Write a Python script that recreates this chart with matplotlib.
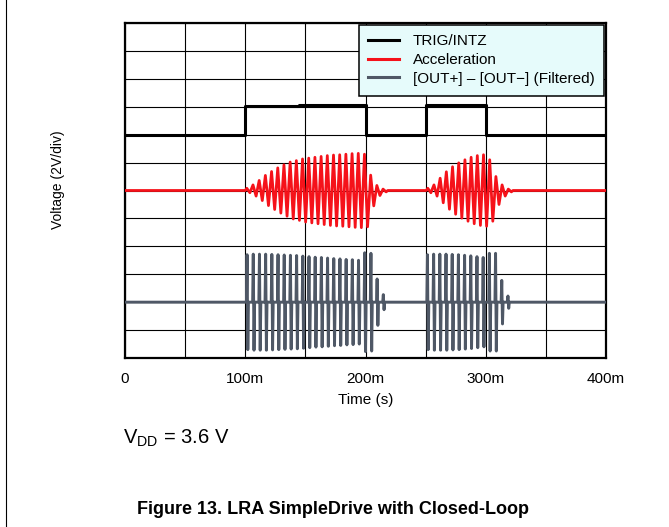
import numpy as np
import matplotlib
matplotlib.use("Agg")
from matplotlib import pyplot as plt
from matplotlib.lines import Line2D

plt.rcParams['font.family'] = ['Liberation Sans', 'DejaVu Sans']
plt.rcParams['mathtext.fontset'] = 'custom'
plt.rcParams['mathtext.rm'] = 'Liberation Sans'

# time in ms, voltage in divisions (2 V/div)
time_ticks = [0, 100, 200, 300, 400]
time_labels = ['0', '100m', '200m', '300m', '400m']

# TRIG/INTZ level changes
trig_t = [0, 100, 100, 145, 145, 200, 200, 250, 250, 300, 300, 400]
trig_v = [8.0, 8.0, 9.02, 9.02, 9.08, 9.08, 8.0, 8.0, 9.06, 9.06, 8.0, 8.0]

period = 5.15  # ms, one LRA cycle

# acceleration: peak amplitude per cycle (div)
acc_base = 6.0
acc_start = [100.0, 250.5]
acc_amp1 = [0.08, 0.2, 0.36, 0.54, 0.68, 0.81, 0.92, 1.02, 1.07, 1.13, 1.16, 1.19,
            1.22, 1.25, 1.27, 1.28, 1.3, 1.32, 1.33, 1.3, 0.55, 0.18, 0.05]
acc_amp2 = [0.08, 0.2, 0.44, 0.67, 0.85, 0.99, 1.1, 1.19, 1.25, 1.28, 1.1, 0.5, 0.2, 0.05]

# [OUT+] - [OUT-]: peak amplitude per cycle (div)
out_base = 2.0
out_start = [101.0, 251.0]
out_amp1 = [1.7, 1.72, 1.72, 1.72, 1.71, 1.70, 1.69, 1.68, 1.67, 1.65, 1.63, 1.61,
            1.6, 1.58, 1.56, 1.55, 1.53, 1.52, 1.5, 1.77, 1.75, 0.83, 0.27]
out_amp2 = [1.7, 1.72, 1.72, 1.72, 1.71, 1.70, 1.68, 1.66, 1.63, 1.6, 1.75, 1.75, 0.78, 0.22]


def sine_burst(t0, amps):
    t, y = [t0], [0.0]
    for k, a in enumerate(amps):
        c = t0 + k * period
        t += [c + 0.25 * period, c + 0.75 * period]
        y += [a, -a]
    t.append(t0 + len(amps) * period)
    y.append(0.0)
    return t, y


def pulse_burst(t0, amps):
    t, y = [], []
    for k, a in enumerate(amps):
        c = t0 + k * period
        t += [c, c + 0.1 * period, c + 0.22 * period, c + 0.32 * period]
        y += [0.0, a, -a, 0.0]
    return t, y


def trace(starts, bursts, base, burst_fn):
    t, y = [0.0], [0.0]
    for s, amps in zip(starts, bursts):
        bt, by = burst_fn(s, amps)
        t += bt
        y += by
    t.append(400.0)
    y.append(0.0)
    return np.array(t), np.array(y) + base


acc_t, acc_v = trace(acc_start, [acc_amp1, acc_amp2], acc_base, sine_burst)
out_t, out_v = trace(out_start, [out_amp1, out_amp2], out_base, pulse_burst)

fig = plt.figure(figsize=(6.69, 5.27), dpi=100)
ax = fig.add_axes([125 / 669, 1 - 358 / 527, 481 / 669, 335 / 527])

c_trig, c_acc, c_out = 'black', '#f5121a', '#4f5866'
ax.plot(out_t, out_v, color=c_out, lw=2.1, zorder=3)
ax.plot(acc_t, acc_v, color=c_acc, lw=2.0, zorder=4)
ax.plot(trig_t, trig_v, color=c_trig, lw=2.2, zorder=5)

ax.set_xlim(0, 400)
ax.set_ylim(0, 12)
ax.set_xticks(np.arange(0, 401, 50))
ax.set_xticklabels([time_labels[time_ticks.index(v)] if v in time_ticks else ''
                    for v in range(0, 401, 50)], fontsize=11)
ax.set_yticks(np.arange(0, 13, 1))
ax.set_yticklabels([])
ax.tick_params(length=0, pad=10)
ax.grid(True, color='black', lw=0.8)
ax.set_axisbelow(True)
for sp in ax.spines.values():
    sp.set_linewidth(1.6)
ax.set_xlabel('Time (s)', fontsize=11, labelpad=5)

handles = [Line2D([], [], color=c_trig, lw=2.2),
           Line2D([], [], color=c_acc, lw=2.2),
           Line2D([], [], color=c_out, lw=2.2)]
leg = ax.legend(handles, ['TRIG/INTZ', 'Acceleration', '[OUT+] \u2013 [OUT\u2212] (Filtered)'],
                loc='upper right', bbox_to_anchor=(1, 1), borderaxespad=0.1,
                fancybox=False, edgecolor='black', facecolor='#e6fbfb', framealpha=1,
                fontsize=11, handlelength=2.0, handletextpad=0.9, borderpad=0.65,
                labelspacing=0.3)
leg.get_frame().set_linewidth(1.1)
leg.set_zorder(10)

fig.text(58 / 669, 1 - 180 / 527, 'Voltage (2V/div)', rotation=90,
         ha='center', va='center', fontsize=10)
fig.text(123 / 669, 1 - 438 / 527, r'V$_{\mathrm{DD}}$ = 3.6 V',
         ha='left', va='center', fontsize=14.5)
fig.text(333 / 669, 1 - 510 / 527, 'Figure 13. LRA SimpleDrive with Closed-Loop',
         ha='center', va='center', fontsize=13, fontweight='bold')
fig.add_artist(Line2D([6.5 / 669, 6.5 / 669], [0, 1], color='black', lw=0.8,
                      transform=fig.transFigure))

fig.savefig('out.png', dpi=100)
